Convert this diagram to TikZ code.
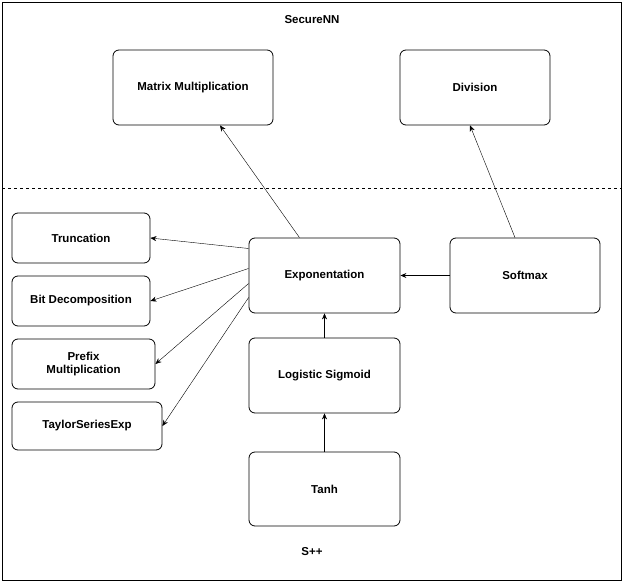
\documentclass[tikz,border=0pt]{standalone}
\usepackage{fontspec}
\setmainfont{Liberation Sans}
\usetikzlibrary{arrows.meta}
\begin{document}
\begin{tikzpicture}[x=1pt,y=-1pt,
  box/.style={draw,thick,rounded corners=6pt,align=center,font=\bfseries\fontsize{11.5}{13}\selectfont},
  arr/.style={-{Stealth[length=6pt,width=5pt]},thin},
  lbl/.style={font=\bfseries\fontsize{11.5}{13}\selectfont}]
\useasboundingbox (0,0) rectangle (624,586);
\draw (2,2) rectangle (621,580);
\draw[dashed] (2,188) -- (621,188);
\node[lbl] (t1) at (312,20) {SecureNN};
\node[lbl] (t2) at (312,552) {S++};
\newcommand{\bx}[6]{\node[box,minimum width=#4-#2,minimum height=#5-#3] (#1) at ({(#2+#4)/2},{(#3+#5)/2}) {#6};}
\bx{mm}{113}{50}{273}{125}{Matrix Multiplication}
\bx{div}{400}{50}{550}{125}{Division}
\bx{tr}{12}{213}{150}{263}{Truncation}
\bx{bd}{12}{276}{150}{326}{Bit Decomposition}
\bx{pm}{12}{339}{155}{389}{Prefix\\Multiplication}
\bx{ts}{12}{402}{162}{450}{TaylorSeriesExp}
\bx{ex}{249}{238}{400}{313}{Exponentation}
\bx{sm}{450}{238}{600}{313}{Softmax}
\bx{ls}{249}{338}{400}{413}{Logistic Sigmoid}
\bx{th}{249}{452}{400}{526}{Tanh}
\draw[arr] ([yshift=27pt]ex.west) -- ([yshift=0pt]tr.east);
\draw[arr] ([yshift=7pt]ex.west) -- ([yshift=-0pt]bd.east);
\draw[arr] ([yshift=-8pt]ex.west) -- ([yshift=-0pt]pm.east);
\draw[arr] ([yshift=-22pt]ex.west) -- ([yshift=-0pt]ts.east);
\draw[arr] ([xshift=-25pt]ex.north) -- ([xshift=27pt]mm.south);
\draw[arr] ([xshift=-10pt]sm.north) -- ([xshift=-5pt]div.south);
\draw[arr,thick] (sm.west) -- (ex.west -| ex.east);
\draw[arr] (ls.north) -- (ex.south);
\draw[arr] (th.north) -- (ls.south);
\end{tikzpicture}
\end{document}
